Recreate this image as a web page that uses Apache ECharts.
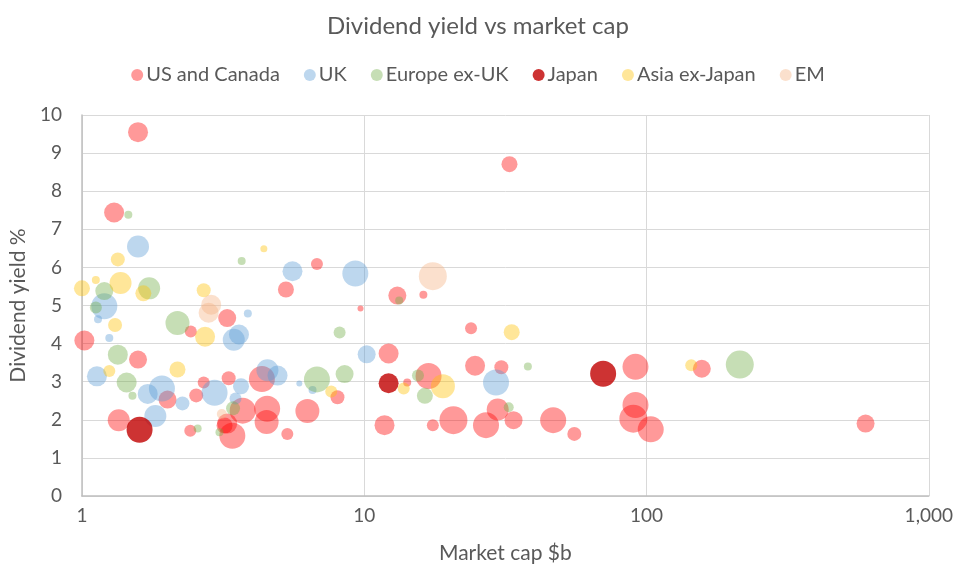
<!DOCTYPE html>
<html>
<head>
<meta charset="utf-8">
<script src="https://cdn.jsdelivr.net/npm/echarts@6/dist/echarts.min.js"></script>
<style>
html,body{margin:0;padding:0;background:#fff;}
#chart{width:956px;height:569px;}
</style>
</head>
<body>
<div id="chart"></div>
<script>
// Each point: [market cap $b, dividend yield %, bubble size]
const seriesNames = ['US and Canada', 'UK', 'Europe ex-UK', 'Japan', 'Asia ex-Japan', 'EM'];
const xTicks = [1, 10, 100, 1000];
const yTicks = [0, 1, 2, 3, 4, 5, 6, 7, 8, 9, 10];

const usCanada = [
  [1.58, 9.55, 10], [1.30, 7.44, 10], [6.80, 6.09, 6], [5.28, 5.42, 8], [9.7, 4.92, 3],
  [1.02, 4.08, 10], [2.43, 4.32, 6], [3.27, 4.67, 9], [1.58, 3.58, 9], [2.01, 2.53, 9],
  [1.35, 1.99, 11], [2.70, 2.98, 6], [3.31, 3.09, 7], [2.54, 2.64, 7], [4.34, 3.07, 13],
  [8.04, 2.59, 7], [3.71, 2.24, 13], [4.53, 2.29, 13], [4.51, 1.94, 12], [6.29, 2.23, 12],
  [5.34, 1.63, 6], [3.27, 1.90, 10], [3.41, 1.58, 13], [2.42, 1.71, 6], [3.20, 1.85, 8],
  [13.1, 5.26, 9], [16.2, 5.28, 4], [23.9, 4.40, 6], [12.2, 3.74, 10], [14.2, 2.98, 4],
  [16.9, 3.15, 13], [24.7, 3.42, 10], [30.6, 3.38, 7], [29.7, 2.27, 11], [33.8, 1.99, 9],
  [20.7, 1.99, 14], [27.0, 1.86, 13], [17.5, 1.86, 6], [11.8, 1.86, 10], [46.7, 1.99, 13],
  [55.5, 1.63, 7], [91.4, 3.39, 13], [91.4, 2.39, 13], [89.8, 2.03, 14], [103.5, 1.75, 13],
  [157, 3.34, 9], [597, 1.90, 9], [32.7, 8.71, 8]
];
const uk = [
  [1.58, 6.55, 11], [5.57, 5.90, 10], [9.30, 5.84, 13], [1.20, 4.98, 13], [1.14, 4.64, 4],
  [1.25, 4.15, 4], [3.87, 4.79, 4], [3.60, 4.24, 10], [3.45, 4.10, 11], [10.2, 3.72, 9],
  [1.13, 3.14, 10], [1.71, 2.68, 10], [1.92, 2.82, 13], [2.27, 2.43, 7], [1.82, 2.10, 11],
  [2.95, 2.71, 13], [3.66, 2.88, 8], [3.50, 2.56, 6], [4.54, 3.30, 11], [4.93, 3.16, 10],
  [5.89, 2.95, 3], [6.56, 2.78, 4], [29.3, 2.98, 13]
];
const europeExUk = [
  [1.46, 7.38, 4], [3.68, 6.17, 4], [1.73, 5.45, 11], [1.20, 5.38, 9], [1.12, 4.95, 6],
  [2.18, 4.54, 12], [13.3, 5.13, 4], [8.18, 4.29, 6], [1.34, 3.71, 10], [1.44, 2.98, 10],
  [1.51, 2.63, 4], [6.80, 3.06, 13], [8.52, 3.20, 9], [3.43, 2.30, 7], [3.07, 1.67, 4],
  [2.57, 1.77, 4], [15.5, 3.16, 6], [16.4, 2.63, 8], [38.0, 3.40, 4], [32.5, 2.33, 5],
  [214, 3.45, 14]
];
const japan = [
  [1.60, 1.74, 13], [12.2, 2.96, 10], [70.2, 3.21, 13]
];
const asiaExJapan = [
  [1.34, 6.21, 7], [4.41, 6.49, 3.5], [1.0, 5.45, 8], [1.12, 5.67, 4], [1.37, 5.59, 11],
  [1.65, 5.32, 8], [2.70, 5.40, 7], [1.31, 4.49, 7], [2.73, 4.18, 10], [1.25, 3.28, 6],
  [2.18, 3.32, 8], [7.64, 2.74, 6], [13.8, 2.82, 6], [19.0, 2.88, 12], [33.3, 4.30, 8],
  [144, 3.43, 6]
];
const em = [
  [2.87, 5.02, 10], [2.81, 4.81, 10], [17.5, 5.77, 14], [3.13, 2.15, 5]
];

const allData = [usCanada, uk, europeExUk, japan, asiaExJapan, em];
const colors = [
  'rgba(255,0,0,0.5)', 'rgba(91,155,213,0.5)', 'rgba(112,173,71,0.5)',
  '#C00000', 'rgba(255,192,0,0.5)', 'rgba(244,177,131,0.5)'
];
const FONT = 'Lato';
const TXT = '#595959';

const chart = echarts.init(document.getElementById('chart'), null, {renderer: 'canvas'});
chart.setOption({
  animation: false,
  backgroundColor: '#ffffff',
  title: {
    text: 'Dividend yield vs market cap',
    left: 'center', top: 9,
    textStyle: {fontFamily: FONT, fontSize: 24, fontWeight: 'normal', color: TXT}
  },
  legend: {
    top: 60, left: 'center',
    icon: 'circle', itemWidth: 12, itemHeight: 12, itemGap: 24,
    textStyle: {fontFamily: FONT, fontSize: 20, color: TXT, padding: [0, 0, 0, -2]},
    data: seriesNames
  },
  grid: {left: 80, right: 25, top: 115, bottom: 69},
  xAxis: {
    type: 'log', logBase: 10, min: xTicks[0], max: xTicks[xTicks.length - 1],
    name: 'Market cap $b', nameLocation: 'middle', nameGap: 47,
    nameTextStyle: {fontFamily: FONT, fontSize: 21, color: TXT},
    axisLine: {show: true, lineStyle: {color: '#BFBFBF', width: 1.5}},
    axisTick: {show: false},
    axisLabel: {
      fontFamily: FONT, fontSize: 19, color: TXT, margin: 10,
      formatter: v => Math.round(v).toLocaleString('en-US')
    },
    splitLine: {show: true, lineStyle: {color: '#D9D9D9', width: 1}}
  },
  yAxis: {
    type: 'value', min: yTicks[0], max: yTicks[yTicks.length - 1], interval: 1,
    name: 'Dividend yield %', nameLocation: 'middle', nameGap: 52,
    nameTextStyle: {fontFamily: FONT, fontSize: 21, color: TXT},
    axisLine: {show: true, lineStyle: {color: '#BFBFBF', width: 1.5}},
    axisTick: {show: false},
    axisLabel: {fontFamily: FONT, fontSize: 19, color: TXT, margin: 20},
    splitLine: {show: true, lineStyle: {color: '#D9D9D9', width: 1}}
  },
  series: seriesNames.map((name, i) => ({
    name: name,
    type: 'scatter',
    data: allData[i],
    symbol: 'circle',
    symbolSize: d => d[2] * 2,
    itemStyle: {color: colors[i]},
    emphasis: {disabled: true}
  }))
});
</script>
</body>
</html>
